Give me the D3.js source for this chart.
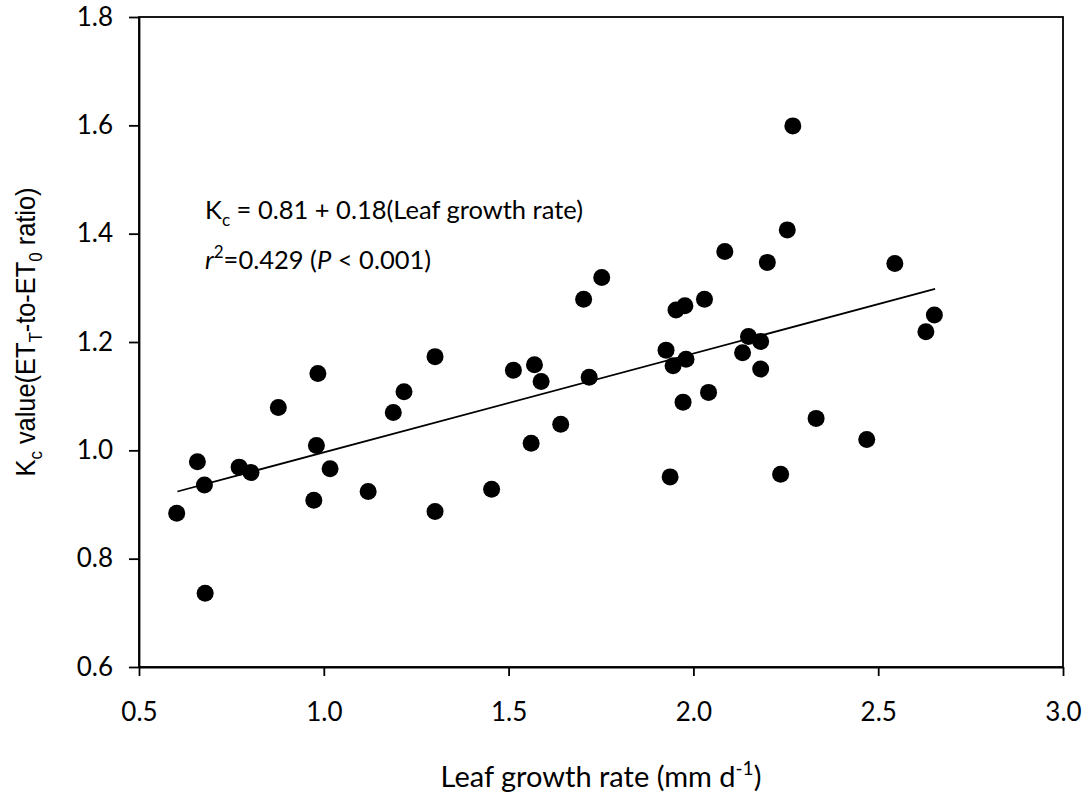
<!DOCTYPE html>
<html>
<head>
<meta charset="utf-8">
<script src="https://cdn.jsdelivr.net/npm/d3@7"></script>
<style>
  html, body { margin: 0; padding: 0; background: #fff; }
  svg { display: block; font-family: Lato, "Open Sans", sans-serif; }
</style>
</head>
<body>
<svg id="chart" width="1092" height="796"></svg>
<script>
// Leaf growth rate (mm d-1)
const growthRate = [0.602, 0.658, 0.677, 0.679, 0.771, 0.803, 0.877, 0.984, 0.980, 0.973,
  1.017, 1.120, 1.188, 1.217, 1.301, 1.301, 1.454, 1.513, 1.570, 1.588,
  1.561, 1.641, 1.703, 1.752, 1.718, 1.937, 1.926, 1.945, 1.980, 1.953,
  1.977, 1.972, 2.030, 2.041, 2.085, 2.200, 2.149, 2.182, 2.133, 2.182,
  2.269, 2.254, 2.545, 2.652, 2.629, 2.332, 2.469, 2.236];
// Kc value (ET_T-to-ET_0 ratio)
const kcValue = [0.884, 0.979, 0.936, 0.736, 0.969, 0.959, 1.079, 1.142, 1.009, 0.908,
  0.966, 0.924, 1.070, 1.108, 1.173, 0.887, 0.928, 1.148, 1.158, 1.127,
  1.013, 1.048, 1.279, 1.319, 1.135, 0.951, 1.185, 1.156, 1.168, 1.259,
  1.267, 1.089, 1.279, 1.107, 1.367, 1.347, 1.210, 1.201, 1.180, 1.150,
  1.599, 1.407, 1.345, 1.250, 1.219, 1.059, 1.020, 0.956];
// Regression line end points as drawn
const trendX = [0.604, 2.654];
const trendY = [0.924, 1.298];
const xTicks = [0.5, 1.0, 1.5, 2.0, 2.5, 3.0];
const yTicks = [0.6, 0.8, 1.0, 1.2, 1.4, 1.6, 1.8];

const svg = d3.select("#chart");
const mLeft = 139, mTop = 17, W = 924, H = 650;
const x = d3.scaleLinear().domain([0.5, 3.0]).range([mLeft, mLeft + W]);
const y = d3.scaleLinear().domain([0.6, 1.8]).range([mTop + H, mTop]);
const fontSize = 26;

// frame
svg.append("rect").attr("x", mLeft).attr("y", mTop).attr("width", W).attr("height", H)
  .attr("fill", "none").attr("stroke", "#000").attr("stroke-width", 1.8);

const xAxis = svg.append("g").attr("transform", `translate(0,${mTop + H})`)
  .call(d3.axisBottom(x).tickValues(xTicks).tickFormat(d3.format(".1f")).tickSize(9).tickSizeOuter(0).tickPadding(27));
const yAxis = svg.append("g").attr("transform", `translate(${mLeft},0)`)
  .call(d3.axisLeft(y).tickValues(yTicks).tickFormat(d3.format(".1f")).tickSize(10).tickSizeOuter(0).tickPadding(16));
[xAxis, yAxis].forEach(g => {
  g.select(".domain").attr("stroke", "#000").attr("stroke-width", 1.8);
  g.selectAll(".tick line").attr("stroke", "#000").attr("stroke-width", 1.8);
  g.selectAll(".tick text").attr("fill", "#000").style("font-size", fontSize + "px").style("font-family", "Lato, 'Open Sans', sans-serif");
});

// trend line
svg.append("path")
  .attr("d", d3.line().x((d, i) => x(trendX[i])).y((d, i) => y(trendY[i]))(trendX))
  .attr("fill", "none").attr("stroke", "#000").attr("stroke-width", 1.8);

// points
svg.append("g").selectAll("circle").data(growthRate).join("circle")
  .attr("cx", (d) => x(d)).attr("cy", (d, i) => y(kcValue[i])).attr("r", 8.5).attr("fill", "#000");

// equation
const eq = svg.append("text").attr("x", 205).attr("y", 219).style("font-size", "25.5px").attr("fill", "#000");
eq.append("tspan").text("K");
eq.append("tspan").attr("dy", 7).style("font-size", "17px").text("c");
eq.append("tspan").attr("dy", -7).text(" = 0.81 + 0.18(Leaf growth rate)");

const r2 = svg.append("text").attr("x", 205).attr("y", 269).style("font-size", "25.5px").attr("fill", "#000");
r2.append("tspan").style("font-style", "italic").text("r");
r2.append("tspan").attr("dy", -11).style("font-size", "17px").text("2");
r2.append("tspan").attr("dy", 11).text("=0.429 (");
r2.append("tspan").style("font-style", "italic").text("P");
r2.append("tspan").text(" < 0.001)");

// x label
const xl = svg.append("text").attr("x", mLeft + W / 2).attr("y", 787).attr("text-anchor", "middle")
  .style("font-size", "29px").attr("fill", "#000");
xl.append("tspan").text("Leaf growth rate (mm d");
xl.append("tspan").attr("dy", -12).style("font-size", "19px").text("-1");
xl.append("tspan").attr("dy", 12).text(")");

// y label
const yl = svg.append("text").attr("transform", "translate(35,332) rotate(-90) scale(0.94,1)").attr("text-anchor", "middle")
  .style("font-size", "27px").style("font-family", "'Liberation Sans', Arial, sans-serif").attr("fill", "#000");
yl.append("tspan").text("K");
yl.append("tspan").attr("dy", 7).style("font-size", "18px").text("c");
yl.append("tspan").attr("dy", -7).text(" value(ET");
yl.append("tspan").attr("dy", 7).style("font-size", "18px").text("T");
yl.append("tspan").attr("dy", -7).text("-to-ET");
yl.append("tspan").attr("dy", 7).style("font-size", "18px").text("0");
yl.append("tspan").attr("dy", -7).text(" ratio)");
</script>
</body>
</html>
